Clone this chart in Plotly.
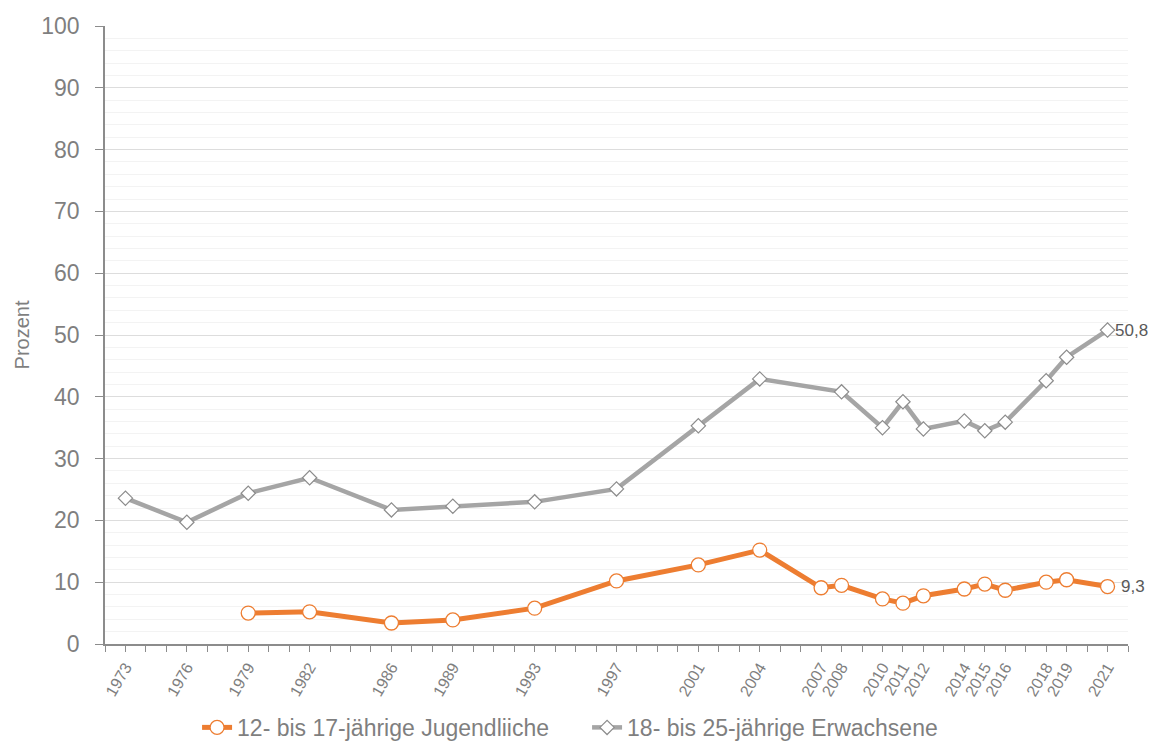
import plotly.graph_objects as go

# Erhebungsjahre und Anteile (Prozent)
years_youth = [1979, 1982, 1986, 1989, 1993, 1997, 2001, 2004, 2007, 2008,
               2010, 2011, 2012, 2014, 2015, 2016, 2018, 2019, 2021]
youth = [5.0, 5.2, 3.4, 3.9, 5.8, 10.2, 12.8, 15.2, 9.1, 9.5,
         7.3, 6.6, 7.8, 8.9, 9.7, 8.7, 10.0, 10.4, 9.3]

years_adult = [1973, 1976, 1979, 1982, 1986, 1989, 1993, 1997, 2001, 2004,
               2008, 2010, 2011, 2012, 2014, 2015, 2016, 2018, 2019, 2021]
adult = [23.6, 19.7, 24.4, 26.9, 21.7, 22.3, 23.0, 25.1, 35.3, 42.9,
         40.8, 35.0, 39.2, 34.8, 36.1, 34.5, 35.9, 42.6, 46.4, 50.8]

label_years = [1973, 1976, 1979, 1982, 1986, 1989, 1993, 1997, 2001, 2004,
               2007, 2008, 2010, 2011, 2012, 2014, 2015, 2016, 2018, 2019, 2021]

name_youth = "12- bis 17-jährige Jugendliiche"
name_adult = "18- bis 25-jährige Erwachsene"

ORANGE = "#ED7D31"
GREY = "#A5A5A5"
TXT = "#7F7F7F"

all_years = list(range(1972, 2023))
tick_text = [str(y) if y in label_years else "" for y in all_years]

fig = go.Figure()
fig.add_trace(go.Scatter(
    x=years_youth, y=youth, name=name_youth, mode="lines+markers",
    line=dict(color=ORANGE, width=5),
    marker=dict(symbol="circle", size=14, color="white",
                line=dict(color=ORANGE, width=1.3)),
))
fig.add_trace(go.Scatter(
    x=years_adult, y=adult, name=name_adult, mode="lines+markers",
    line=dict(color=GREY, width=4.5),
    marker=dict(symbol="diamond", size=11, color="white",
                line=dict(color="#8C8C8C", width=1.2)),
))

# Endwerte beschriften
for xs, ys, shift in ((years_youth, youth, 12), (years_adult, adult, 6)):
    fig.add_annotation(
        x=xs[-1], y=ys[-1], text=f"{ys[-1]:.1f}".replace(".", ","),
        showarrow=False, xanchor="left", xshift=shift, borderpad=0,
        font=dict(size=17, color="#595959"),
    )

fig.update_layout(
    width=1156, height=742,
    margin=dict(l=97, r=36, t=18, b=106, autoexpand=False),
    paper_bgcolor="white", plot_bgcolor="white",
    font=dict(family="Liberation Sans, Arial, sans-serif", color=TXT),
    showlegend=True,
    legend=dict(
        orientation="h", x=0.09, xanchor="left", y=-0.135, yanchor="middle",
        font=dict(size=23, color=TXT), entrywidth=345, entrywidthmode="pixels",
        itemwidth=30,
    ),
)

fig.update_xaxes(
    range=[1972, 2022], tickmode="array", tickvals=all_years, ticktext=tick_text,
    tickangle=-60, tickfont=dict(size=16, color=TXT),
    ticks="outside", ticklen=6, tickcolor="#8C8C8C",
    showline=True, linecolor="#8C8C8C", linewidth=1.5,
    showgrid=False, zeroline=False, automargin=False,
)
fig.update_yaxes(
    range=[0, 100], dtick=10, tickfont=dict(size=23, color=TXT),
    ticks="outside", ticklen=8, tickcolor="#8C8C8C", ticklabelstandoff=11,
    showline=True, linecolor="#8C8C8C", linewidth=1.5,
    showgrid=True, gridcolor="#DDDDDD", gridwidth=1,
    minor=dict(dtick=2, showgrid=True, gridcolor="#F3F3F3", gridwidth=1),
    zeroline=False, automargin=False,
    title=dict(text="Prozent", font=dict(size=20, color=TXT), standoff=6),
)

fig.write_html("out.html")
